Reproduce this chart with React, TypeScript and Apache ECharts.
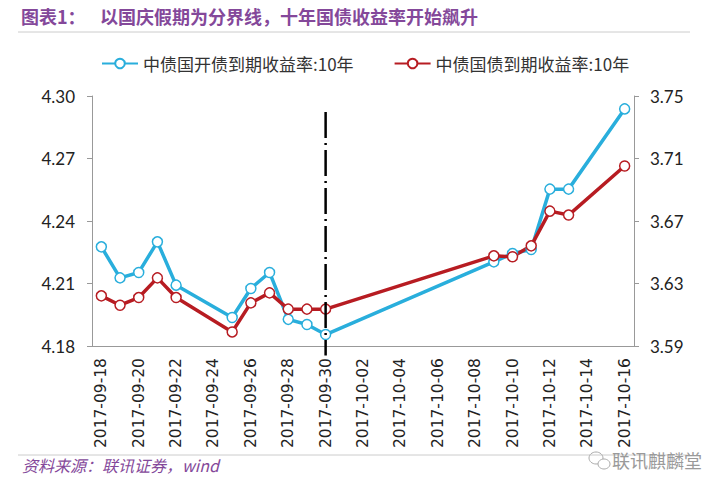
import React, { useEffect, useRef } from "react";
import * as echarts from "echarts";

const axisDates = [
  "2017-09-18", "2017-09-19", "2017-09-20", "2017-09-21", "2017-09-22", "2017-09-23",
  "2017-09-24", "2017-09-25", "2017-09-26", "2017-09-27", "2017-09-28", "2017-09-29",
  "2017-09-30", "2017-10-01", "2017-10-02", "2017-10-03", "2017-10-04", "2017-10-05",
  "2017-10-06", "2017-10-07", "2017-10-08", "2017-10-09", "2017-10-10", "2017-10-11",
  "2017-10-12", "2017-10-13", "2017-10-14", "2017-10-15", "2017-10-16",
];

const tradeDates = [
  "2017-09-18", "2017-09-19", "2017-09-20", "2017-09-21", "2017-09-22",
  "2017-09-25", "2017-09-26", "2017-09-27", "2017-09-28", "2017-09-29", "2017-09-30",
  "2017-10-09", "2017-10-10", "2017-10-11", "2017-10-12", "2017-10-13", "2017-10-16",
];

const cdbYield = [
  4.2276, 4.2127, 4.2153, 4.23, 4.2092,
  4.1937, 4.2076, 4.2153, 4.1928, 4.1903, 4.1855,
  4.2204, 4.2244, 4.2263, 4.2553, 4.2553, 4.2938,
];

const govYield = [
  3.6221, 3.6161, 3.621, 3.6336, 3.621,
  3.599, 3.6176, 3.624, 3.6136, 3.6136, 3.6136,
  3.6477, 3.6471, 3.6541, 3.6763, 3.6738, 3.7052,
];

const seriesNames = ["中债国开债到期收益率:10年", "中债国债到期收益率:10年"];
const leftAxis = { min: 4.18, max: 4.3, step: 0.03 };
const rightAxis = { min: 3.59, max: 3.75, step: 0.04 };
const dividerDate = "2017-09-30";
const dividerRange = [3.7398, 3.584];

const titleLabel = "图表1：";
const titleText = "以国庆假期为分界线，十年国债收益率开始飙升";
const sourceText = "资料来源：联讯证券，wind";
const watermarkText = "联讯麒麟堂";

const BLUE = "#29AEDC";
const RED = "#B71C22";
const PURPLE = "#84489A";

export default function App() {
  const ref = useRef<HTMLDivElement>(null);
  useEffect(() => {
    if (!ref.current) return;
    const chart = echarts.init(ref.current, undefined, { renderer: "svg" });
    const mkSeries = (name: string, vals: number[], color: string, yIdx: number) => ({
      name,
      type: "line",
      yAxisIndex: yIdx,
      data: tradeDates.map((d, i) => [d, vals[i]]),
      symbol: "circle",
      symbolSize: 10,
      showSymbol: true,
      lineStyle: { color, width: 3.5 },
      itemStyle: { color: "#ffffff", borderColor: color, borderWidth: 1.5 },
      emphasis: { disabled: true },
    });
    const yLabel = {
      fontFamily: "Lato",
      fontSize: 17,
      color: "#222",
      formatter: (v: number) => v.toFixed(2),
    };
    const baseGraphics: any[] = [
      {
        type: "text",
        left: 21,
        top: 7,
        style: { text: titleLabel, fill: PURPLE, fontSize: 18, fontWeight: "bold", fontFamily: "Noto Sans CJK SC" },
      },
      {
        type: "text",
        left: 100,
        top: 7,
        style: { text: titleText, fill: PURPLE, fontSize: 18, fontWeight: "bold", fontFamily: "Noto Sans CJK SC" },
      },
      {
        type: "line",
        shape: { x1: 18, y1: 32, x2: 690, y2: 32 },
        style: { stroke: "#cccccc", lineWidth: 1 },
      },
      {
        type: "line",
        shape: { x1: 18, y1: 455, x2: 690, y2: 455 },
        style: { stroke: "#cccccc", lineWidth: 1 },
      },
      {
        type: "text",
        left: 22,
        top: 457,
        style: { text: sourceText, fill: PURPLE, fontSize: 16, fontStyle: "italic", fontFamily: "Noto Sans CJK SC" },
      },
      {
        type: "ellipse",
        shape: { cx: 596, cy: 458, rx: 7, ry: 6 },
        style: { fill: "none", stroke: "#aaa", lineWidth: 1 },
      },
      {
        type: "ellipse",
        shape: { cx: 604, cy: 464, rx: 6, ry: 5 },
        style: { fill: "#fff", stroke: "#aaa", lineWidth: 1 },
      },
      {
        type: "text",
        left: 612,
        top: 451,
        style: { text: watermarkText, fill: "#9a9a9a", fontSize: 18, fontFamily: "Noto Sans CJK SC" },
      },
    ];
    chart.setOption({
      animation: false,
      backgroundColor: "#ffffff",
      grid: { left: 92, right: 86, top: 96, bottom: 145, containLabel: false },
      legend: {
        left: 96,
        top: 50,
        itemWidth: 36,
        itemHeight: 12,
        itemGap: 40,
        textStyle: { fontFamily: "Noto Sans CJK SC", fontSize: 17, color: "#333" },
        data: seriesNames,
      },
      xAxis: {
        type: "category",
        data: axisDates,
        boundaryGap: true,
        axisLine: { lineStyle: { color: "#999", width: 1 } },
        axisTick: { interval: 1, length: 5, lineStyle: { color: "#999" } },
        axisLabel: {
          interval: 1,
          rotate: 90,
          margin: 12,
          fontFamily: "DejaVu Sans",
          fontSize: 15.5,
          color: "#222",
        },
        splitLine: { show: false },
      },
      yAxis: [
        {
          type: "value",
          min: leftAxis.min,
          max: leftAxis.max,
          interval: leftAxis.step,
          axisLine: { show: true, lineStyle: { color: "#999" } },
          axisTick: { show: true, length: 5, lineStyle: { color: "#999" } },
          axisLabel: { ...yLabel, margin: 17 },
          splitLine: { show: false },
        },
        {
          type: "value",
          min: rightAxis.min,
          max: rightAxis.max,
          interval: rightAxis.step,
          position: "right",
          axisLine: { show: true, lineStyle: { color: "#999" } },
          axisTick: { show: true, length: 5, lineStyle: { color: "#999" } },
          axisLabel: { ...yLabel, margin: 16 },
          splitLine: { show: false },
        },
      ],
      series: [
        mkSeries(seriesNames[0], cdbYield, BLUE, 0),
        mkSeries(seriesNames[1], govYield, RED, 1),
      ],
      graphic: baseGraphics,
    });
    const p1 = chart.convertToPixel({ xAxisIndex: 0, yAxisIndex: 1 }, [dividerDate, dividerRange[0]]) as number[];
    const p2 = chart.convertToPixel({ xAxisIndex: 0, yAxisIndex: 1 }, [dividerDate, dividerRange[1]]) as number[];
    if (p1 && p2) {
      chart.setOption({
        graphic: [
          ...baseGraphics,
          {
            type: "line",
            z: 100,
            shape: { x1: p1[0], y1: p1[1], x2: p2[0], y2: p2[1] },
            style: { stroke: "#000", lineWidth: 2.5, lineDash: [26, 5, 2, 5] },
          },
        ],
      });
    }
    return () => chart.dispose();
  }, []);
  return (
    <div
      ref={ref}
      style={{ position: "fixed", left: 0, top: 0, width: 720, height: 491, background: "#fff" }}
    />
  );
}
